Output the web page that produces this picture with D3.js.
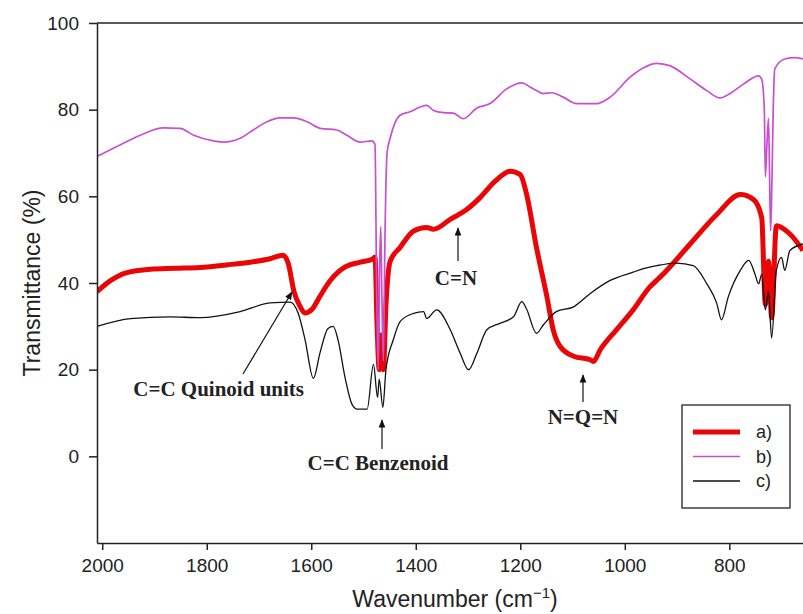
<!DOCTYPE html>
<html>
<head>
<meta charset="utf-8">
<script src="https://cdn.jsdelivr.net/npm/d3@7"></script>
<style>
  html, body { margin: 0; padding: 0; background: #fff; }
  svg { display: block; }
</style>
</head>
<body>
<div id="chart"></div>
<script>
/* FTIR spectra a) b) c) — transmittance vs wavenumber */

// ── data (wavenumber cm-1, transmittance %) ─────────────────────
const waveA = [2010,1985,1956,1908,1860,1813,1760,1717,1679,1654,1644,1633,1621,1612,1598,1583,1564,1535,1506,1483,1478,1474,1470,1466,1462,1457,1449,1430,1404,1379,1366,1334,1302,1277,1248,1219,1200,1188,1169,1149,1137,1124,1098,1066,1060,1047,1016,984,952,940,932,875,824,779,754,738,731,725,719,710,684,659];
const transA = [38,40.5,42.3,43.2,43.4,43.6,44.2,44.8,45.6,46.4,44.5,38,34.5,33.1,34,37,40.5,43.7,44.8,45.5,46,30,20,28,20,35,45,48.2,52,52.8,52.4,54.7,57,59.7,63.5,65.8,65,60.5,48.2,36.8,29.2,25.4,23.1,22.3,21.9,24.6,29.2,33.8,39.1,40.5,41.4,49,55.8,60.4,59.3,55.1,35,45,32,53.2,51.3,47.5];

const waveB = [2010,1972,1927,1883,1851,1825,1787,1768,1736,1711,1685,1660,1634,1608,1583,1551,1532,1506,1484,1478,1475,1472,1469,1467,1465,1462,1459,1455,1449,1430,1411,1392,1379,1366,1347,1328,1309,1283,1258,1226,1197,1181,1169,1156,1140,1118,1092,1054,1028,990,964,939,913,875,843,818,799,773,744,738,733,731,728,725,723,721,719,716,713,694,675,659];
const transB = [69.2,71.5,74.1,75.8,75.7,74.1,72.8,72.5,73.4,75.3,77.2,78.1,78.1,77.2,75.7,75.3,74.1,72.5,72.8,72,40,20,45,53,38,22,50,70,73.4,78.7,79.5,80.6,81,79.8,79.3,79.2,77.9,80.4,81.4,84.8,86.2,85.2,84.4,83.7,83.9,82.9,81.4,81.4,82.9,87.5,89.7,90.7,90.1,87.1,84.4,82.7,83.7,85.9,87.8,87,80,64.5,72,78,65,52,60,80,89.4,91.7,92,91.7];

const waveC = [2010,1946,1870,1813,1736,1679,1640,1625,1612,1596,1583,1568,1558,1549,1535,1522,1512,1493,1481,1473,1470,1463,1457,1443,1430,1404,1385,1379,1360,1334,1315,1299,1283,1264,1239,1213,1197,1188,1169,1156,1131,1098,1066,1028,984,964,939,901,869,843,824,815,802,779,763,751,744,738,731,725,719,710,700,694,684,659];
const transC = [30,31.8,32.2,32,33.4,35.4,35.6,33,27,18,24,29.5,30,27,18,12,10.9,10.9,21.2,13.6,17.8,11.3,20.1,26.9,31.1,33,33.4,31.8,33.8,29.2,23.8,20,23.8,29.2,30.7,32.2,35.7,34,28.4,30.3,33.4,34.5,37.6,40.6,42.5,43.3,44,44.6,44,39.8,35.3,31.5,36.8,42.9,45.2,42.1,39.8,42,33.8,38,27.3,42.9,45.9,42.9,47.5,49];

const xTicks = [2000, 1800, 1600, 1400, 1200, 1000, 800];
const yTicks = [0, 20, 40, 60, 80, 100];
const seriesNames = ['a)', 'b)', 'c)'];

// ── layout ───────────────────────────────────────────────────────
const W = 803, H = 614;
const ML = 97, MT = 23, PB = 543, PR = 803;

const svg = d3.select('#chart').append('svg')
  .attr('width', W).attr('height', H);

const x = d3.scaleLinear().domain([2010, 659]).range([ML, PR]);
const y = d3.scaleLinear().domain([-20, 100]).range([PB, MT]);

svg.append('defs').append('clipPath').attr('id', 'plot-clip')
  .append('rect').attr('x', ML).attr('y', MT)
  .attr('width', PR - ML).attr('height', PB - MT);

const series = [
  { name: seriesNames[0], wave: waveA, trans: transA, color: '#ea0606', width: 5 },
  { name: seriesNames[1], wave: waveB, trans: transB, color: '#c84fd2', width: 1.7 },
  { name: seriesNames[2], wave: waveC, trans: transC, color: '#111', width: 1.3 },
];

const line = d3.line()
  .x(d => x(d[0])).y(d => y(d[1]))
  .curve(d3.curveMonotoneX);

const plotG = svg.append('g').attr('clip-path', 'url(#plot-clip)');
series.forEach(s => {
  plotG.append('path')
    .datum(s.wave.map((w, i) => [w, s.trans[i]]))
    .attr('fill', 'none')
    .attr('stroke', s.color)
    .attr('stroke-width', s.width)
    .attr('stroke-linejoin', 'round')
    .attr('d', line);
});

// ── axes ─────────────────────────────────────────────────────────
const xAxisG = svg.append('g')
  .attr('transform', `translate(0,${PB})`)
  .call(d3.axisBottom(x).tickValues(xTicks).tickFormat(d3.format('d'))
    .tickSize(7).tickPadding(9).tickSizeOuter(0));
const yAxisG = svg.append('g')
  .attr('transform', `translate(${ML},0)`)
  .call(d3.axisLeft(y).tickValues(yTicks).tickFormat(d3.format('d'))
    .tickSize(8).tickPadding(10).tickSizeOuter(0));

[xAxisG, yAxisG].forEach(g => {
  g.select('.domain').attr('stroke', '#222').attr('stroke-width', 1.5);
  g.selectAll('.tick line').attr('stroke', '#222').attr('stroke-width', 1.5);
  g.selectAll('.tick text')
    .attr('font-family', 'Liberation Sans, Arial, sans-serif')
    .attr('font-size', 19).attr('fill', '#222');
});

// frame top
svg.append('line')
  .attr('x1', ML).attr('x2', PR).attr('y1', MT).attr('y2', MT)
  .attr('stroke', '#222').attr('stroke-width', 1.5);

// axis titles
const xTitle = svg.append('text')
  .attr('x', 455).attr('y', 607)
  .attr('text-anchor', 'middle')
  .attr('font-family', 'Liberation Sans, Arial, sans-serif')
  .attr('font-size', 23).attr('fill', '#222');
xTitle.append('tspan').text('Wavenumber (cm');
xTitle.append('tspan').attr('dy', -9).attr('font-size', 15).text('−1');
xTitle.append('tspan').attr('dy', 9).text(')');

svg.append('text')
  .attr('transform', 'translate(40,283) rotate(-90)')
  .attr('text-anchor', 'middle')
  .attr('font-family', 'Liberation Sans, Arial, sans-serif')
  .attr('font-size', 23).attr('fill', '#222')
  .text('Transmittance (%)');

// ── annotations ──────────────────────────────────────────────────
svg.select('defs').append('marker')
  .attr('id', 'arrow').attr('viewBox', '0 0 10 10')
  .attr('refX', 9).attr('refY', 5)
  .attr('markerWidth', 7).attr('markerHeight', 7)
  .attr('orient', 'auto-start-reverse')
  .append('path').attr('d', 'M0,1 L10,5 L0,9 Z').attr('fill', '#111');

const notes = [
  { text: 'C=C Quinoid units', tx: 304, ty: 396, anchor: 'end', x1: 243, y1: 374, x2: 292, y2: 292 },
  { text: 'C=C Benzenoid', tx: 378, ty: 470, anchor: 'middle', x1: 382, y1: 449, x2: 382, y2: 420 },
  { text: 'C=N', tx: 456, ty: 285, anchor: 'middle', x1: 458, y1: 261, x2: 458, y2: 228 },
  { text: 'N=Q=N', tx: 583, ty: 424, anchor: 'middle', x1: 583, y1: 402, x2: 583, y2: 375 },
];
notes.forEach(n => {
  svg.append('line')
    .attr('x1', n.x1).attr('y1', n.y1).attr('x2', n.x2).attr('y2', n.y2)
    .attr('stroke', '#111').attr('stroke-width', 1.2)
    .attr('marker-end', 'url(#arrow)');
  svg.append('text')
    .attr('x', n.tx).attr('y', n.ty)
    .attr('text-anchor', n.anchor)
    .attr('font-family', 'Liberation Serif, Times New Roman, serif')
    .attr('font-weight', 'bold').attr('font-size', 21).attr('fill', '#222')
    .text(n.text);
});

// ── legend ───────────────────────────────────────────────────────
const lg = svg.append('g').attr('transform', 'translate(682,405)');
lg.append('rect').attr('width', 108).attr('height', 103)
  .attr('fill', '#fff').attr('stroke', '#222').attr('stroke-width', 1.3);
series.forEach((s, i) => {
  const ly = 27 + i * 24.5;
  lg.append('line')
    .attr('x1', 11).attr('x2', 58).attr('y1', ly).attr('y2', ly)
    .attr('stroke', s.color).attr('stroke-width', s.width);
  lg.append('text')
    .attr('x', 74).attr('y', ly + 6)
    .attr('font-family', 'Liberation Sans, Arial, sans-serif')
    .attr('font-size', 18).attr('fill', '#222')
    .text(s.name);
});
</script>
</body>
</html>
